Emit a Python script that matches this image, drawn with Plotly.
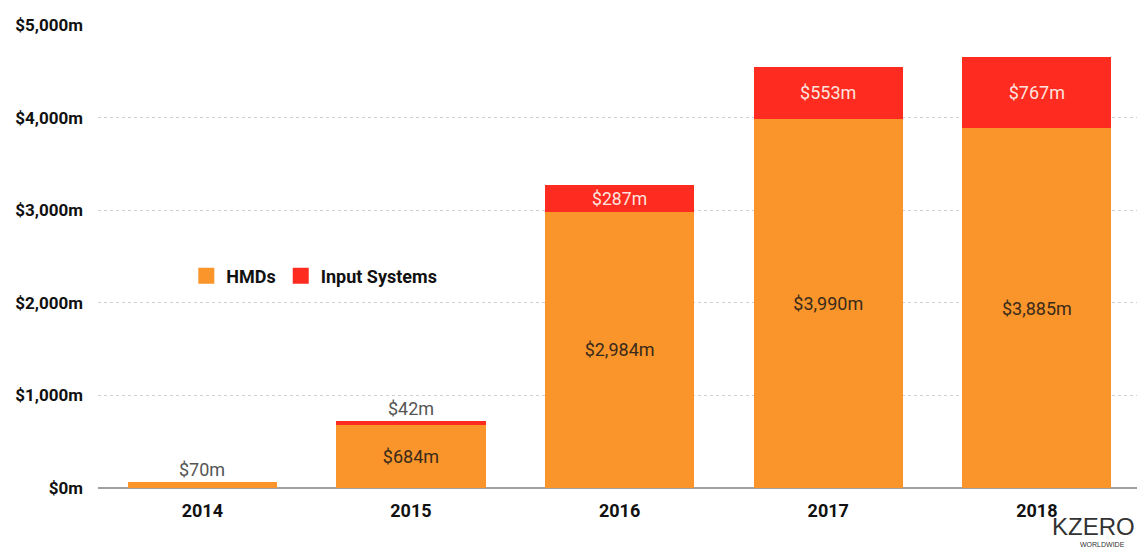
import plotly.graph_objects as go

years = ["2014", "2015", "2016", "2017", "2018"]
hmds = [70, 684, 2984, 3990, 3885]
inputs = [0, 42, 287, 553, 767]
hmd_labels = ["", "$684m", "$2,984m", "$3,990m", "$3,885m"]
input_labels = ["", "", "$287m", "$553m", "$767m"]
outside_labels = ["$70m", "$42m", "", "", ""]
y_ticks = [0, 1000, 2000, 3000, 4000, 5000]
y_ticklabels = ["$0m", "$1,000m", "$2,000m", "$3,000m", "$4,000m", "$5,000m"]

ORANGE = "#F9952B"
RED = "#FE2C20"
FONT = "Roboto, Liberation Sans, sans-serif"

fig = go.Figure()
fig.add_trace(go.Bar(
    x=years, y=hmds, marker=dict(color=ORANGE, line=dict(width=0)),
    text=hmd_labels, textposition="inside", insidetextanchor="middle",
    textfont=dict(family=FONT, size=18, color="#3a2a1a"),
    showlegend=False, name="HMDs"))
fig.add_trace(go.Bar(
    x=years, y=inputs, marker=dict(color=RED, line=dict(width=0)),
    text=input_labels, textposition="inside", insidetextanchor="middle",
    textfont=dict(family=FONT, size=18, color="#FFE3DF"),
    showlegend=False, name="Input Systems"))

# legend dummies
fig.add_trace(go.Scatter(x=[None], y=[None], mode="markers", name="HMDs",
                         marker=dict(symbol="square", size=20, color=ORANGE)))
fig.add_trace(go.Scatter(x=[None], y=[None], mode="markers", name="Input Systems",
                         marker=dict(symbol="square", size=20, color=RED)))

totals = [h + i for h, i in zip(hmds, inputs)]
for idx, (tot, lab) in enumerate(zip(totals, outside_labels)):
    if lab:
        fig.add_annotation(x=idx, y=tot, text=lab, showarrow=False,
                           yanchor="bottom", yshift=0,
                           font=dict(family=FONT, size=18, color="#555555"))

# logo
fig.add_annotation(x=1.0, y=0.0, xref="paper", yref="paper", text="KZERO",
                   showarrow=False, xanchor="right", yanchor="top",
                   yshift=-23,
                   font=dict(family="Liberation Sans, Arial", size=24, color="#333333"))
fig.add_annotation(x=1.0, y=0.0, xref="paper", yref="paper", text="WORLDWIDE",
                   showarrow=False, xanchor="right", yanchor="top",
                   yshift=-51, xshift=-10,
                   font=dict(family="Liberation Sans, Arial", size=7, color="#333333"))

fig.update_layout(
    barmode="stack",
    bargap=0.285,
    width=1137, height=549,
    margin=dict(l=98, r=0, t=25, b=61, autoexpand=False),
    plot_bgcolor="white", paper_bgcolor="white",
    font=dict(family=FONT, color="#111111"),
    legend=dict(orientation="h", x=0.085, y=0.458, xanchor="left", yanchor="middle",
                traceorder="normal",
                font=dict(family=FONT, size=18, color="#111111", weight="bold"),
                bgcolor="rgba(0,0,0,0)", itemsizing="trace"),
    xaxis=dict(range=[-0.5, 4.48], showgrid=False, showline=False, ticks="",
               ticklabelstandoff=10,
               tickfont=dict(family=FONT, size=18, color="#111111", weight="bold")),
    yaxis=dict(range=[0, 5000], tickvals=y_ticks, ticktext=y_ticklabels,
               showgrid=True, gridcolor="#d0d0d0", griddash="dot", gridwidth=1,
               zeroline=True, zerolinecolor="#a0a0a0", zerolinewidth=2,
               ticks="", ticklabelstandoff=14,
               tickfont=dict(family=FONT, size=17, color="#111111", weight="bold")),
)

fig.write_html("out.html", config={"displayModeBar": False},
               post_script="document.body.style.margin='0px';")
